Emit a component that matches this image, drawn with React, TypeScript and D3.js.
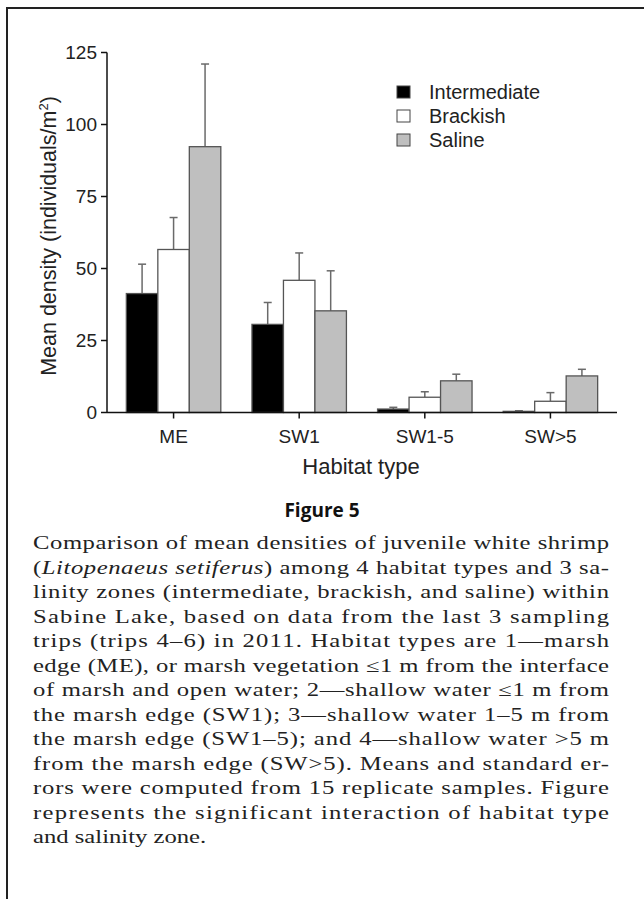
import React from "react";
import * as d3 from "d3";

const categories = ["ME", "SW1", "SW1-5", "SW>5"];
const seriesNames = ["Intermediate", "Brackish", "Saline"];
const intermediate = [41.3, 30.6, 1.2, 0.4];
const intermediateSE = [10.2, 7.6, 0.6, 0.2];
const brackish = [56.6, 45.9, 5.3, 3.9];
const brackishSE = [11.1, 9.5, 1.9, 3.0];
const saline = [92.3, 35.3, 11.0, 12.7];
const salineSE = [28.7, 13.9, 2.3, 2.3];
const yTicks = [0, 25, 50, 75, 100, 125];
const fills = ["#000000", "#ffffff", "#bfbfbf"];

const captionLines: { parts: { t: string; i?: boolean }[]; last?: boolean }[] = [
  { parts: [{ t: "Comparison of mean densities of juvenile white shrimp" }] },
  { parts: [{ t: "(" }, { t: "Litopenaeus setiferus", i: true }, { t: ") among 4 habitat types and 3 sa-" }] },
  { parts: [{ t: "linity zones (intermediate, brackish, and saline) within" }] },
  { parts: [{ t: "Sabine Lake, based on data from the last 3 sampling" }] },
  { parts: [{ t: "trips (trips 4\u20136) in 2011. Habitat types are 1\u2014marsh" }] },
  { parts: [{ t: "edge (ME), or marsh vegetation \u22641 m from the interface" }] },
  { parts: [{ t: "of marsh and open water; 2\u2014shallow water \u22641 m from" }] },
  { parts: [{ t: "the marsh edge (SW1); 3\u2014shallow water 1\u20135 m from" }] },
  { parts: [{ t: "the marsh edge (SW1\u20135); and 4\u2014shallow water >5 m" }] },
  { parts: [{ t: "from the marsh edge (SW>5). Means and standard er-" }] },
  { parts: [{ t: "rors were computed from 15 replicate samples. Figure" }] },
  { parts: [{ t: "represents the significant interaction of habitat type" }] },
  { parts: [{ t: "and salinity zone." }], last: true },
];

export default function App() {
  const W = 644, H = 899;
  const values = [intermediate, brackish, saline];
  const ses = [intermediateSE, brackishSE, salineSE];
  const x = d3.scaleBand<string>().domain(categories).range([107, 617]).paddingInner(0).paddingOuter(0.03);
  const groupW = x.step() * 0.752;
  const x1 = d3.scaleBand<string>().domain(seriesNames).range([-groupW / 2, groupW / 2]);
  const y = d3.scaleLinear().domain([0, 125]).range([412.5, 52.5]);
  const font = "'Liberation Sans', Arial, Helvetica, sans-serif";
  const fs = 19;
  const cx = (c: string) => (x(c) as number) + x.bandwidth() / 2;
  const sx = 1.37;

  return (
    <svg width={W} height={H} style={{ position: "absolute", left: 0, top: 0, background: "#fff" }}>
      <rect x={0} y={0} width={W} height={H} fill="#fff" />
      {/* frame */}
      <path d={`M7,${H} L7,8 L${W},8`} fill="none" stroke="#222" strokeWidth={2} />

      {/* bars */}
      {categories.map((c, ci) =>
        seriesNames.map((s, si) => {
          const v = values[si][ci];
          const se = ses[si][ci];
          const bx = cx(c) + (x1(s) as number);
          const bw = x1.bandwidth();
          const mid = bx + bw / 2;
          return (
            <g key={c + s}>
              <line x1={mid} x2={mid} y1={y(v)} y2={y(v + se)} stroke="#6a6a6a" strokeWidth={1.5} />
              <line x1={mid - 4} x2={mid + 4} y1={y(v + se)} y2={y(v + se)} stroke="#6a6a6a" strokeWidth={1.5} />
              <rect x={bx} y={y(v)} width={bw} height={y(0) - y(v)} fill={fills[si]} stroke="#555" strokeWidth={1.3} />
            </g>
          );
        })
      )}

      {/* y axis */}
      <line x1={107} x2={107} y1={y(125)} y2={y(0)} stroke="#111" strokeWidth={1.5} />
      {yTicks.map((t) => (
        <g key={t}>
          <line x1={101} x2={107} y1={y(t)} y2={y(t)} stroke="#111" strokeWidth={1.5} />
          <text x={97} y={y(t)} dy="0.35em" textAnchor="end" fontFamily={font} fontSize={fs} fill="#222">
            {t}
          </text>
        </g>
      ))}
      <text
        transform={`translate(56,236) rotate(-90)`}
        textAnchor="middle"
        fontFamily={font}
        fontSize={21.5}
        fill="#222"
      >
        Mean density (individuals/m<tspan dy={-8} fontSize={13}>2</tspan>
        <tspan dy={8}>)</tspan>
      </text>

      {/* x axis */}
      <line x1={107} x2={617} y1={y(0)} y2={y(0)} stroke="#111" strokeWidth={1.5} />
      {categories.map((c) => (
        <g key={c}>
          <line x1={cx(c)} x2={cx(c)} y1={y(0)} y2={y(0) + 6} stroke="#111" strokeWidth={1.5} />
          <text x={cx(c)} y={443} textAnchor="middle" fontFamily={font} fontSize={fs} fill="#222">
            {c}
          </text>
        </g>
      ))}
      <text x={361} y={474} textAnchor="middle" fontFamily={font} fontSize={22} fill="#222">
        Habitat type
      </text>

      {/* legend */}
      {seriesNames.map((s, i) => (
        <g key={s}>
          <rect x={397} y={86 + i * 24} width={13} height={12} fill={fills[i]} stroke="#444" strokeWidth={1} />
          <text x={429} y={92 + i * 24} dy="0.35em" fontFamily={font} fontSize={20} fill="#222">
            {s}
          </text>
        </g>
      ))}

      {/* figure title */}
      <text x={322} y={517} textAnchor="middle" fontFamily="'Open Sans', 'Noto Sans', sans-serif" fontWeight={700} fontSize={19} fill="#111">
        Figure 5
      </text>

      {/* caption */}
      {captionLines.map((ln, i) => (
        <text
          key={i}
          transform={`translate(33,${549 + i * 24.5}) scale(${sx},1)`}
          x={0}
          y={0}
          fontFamily="'Liberation Serif', 'Times New Roman', serif"
          fontSize={18}
          fill="#222"
          {...(ln.last ? {} : { textLength: 576 / sx, lengthAdjust: "spacing" })}
        >
          {ln.parts.map((p, j) => (
            <tspan key={j} fontStyle={p.i ? "italic" : undefined}>
              {p.t}
            </tspan>
          ))}
        </text>
      ))}
    </svg>
  );
}
